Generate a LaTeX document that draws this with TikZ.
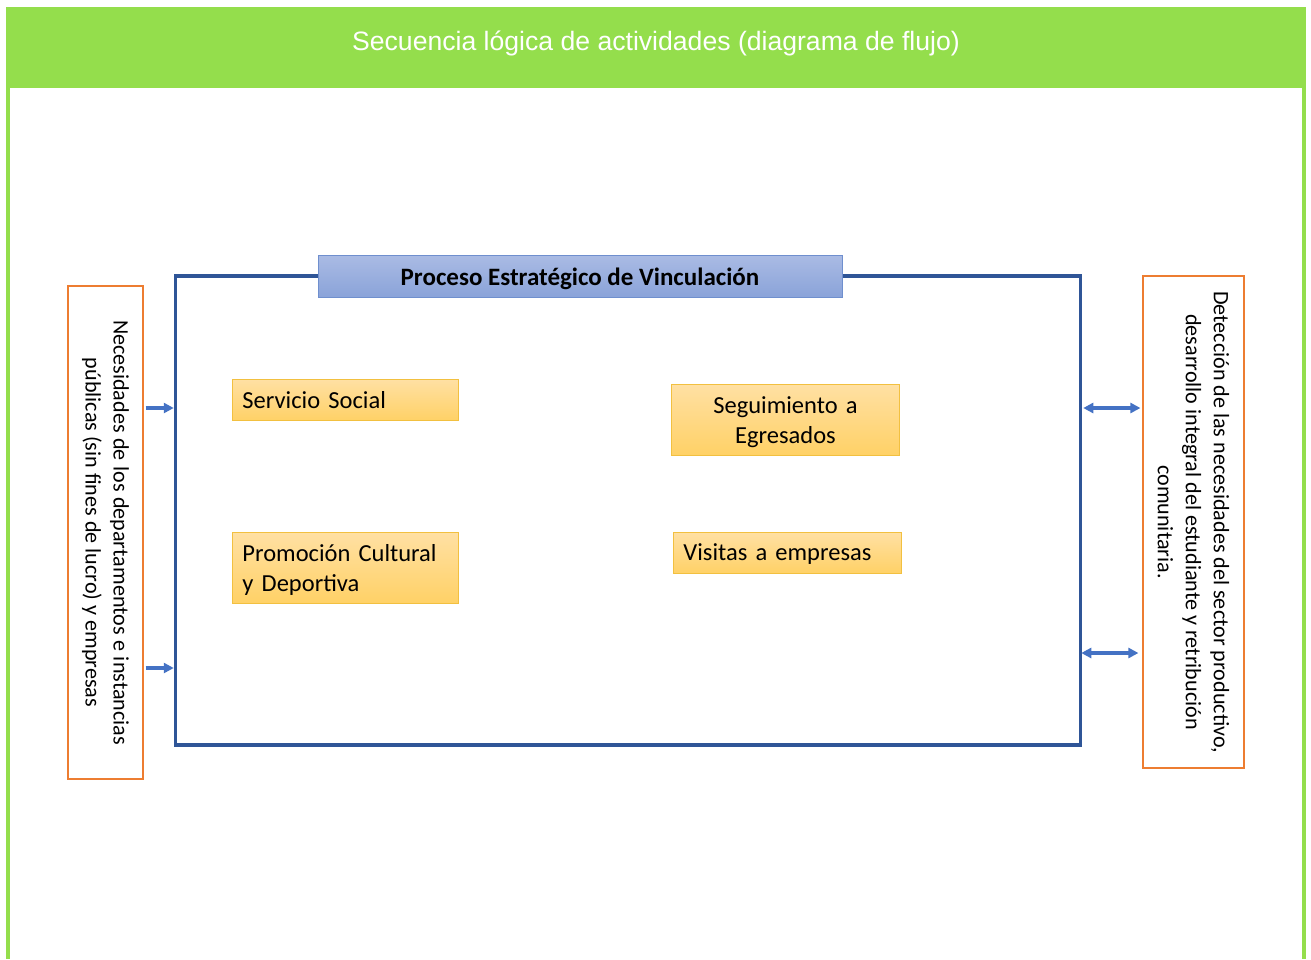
\documentclass[tikz,border=0pt]{standalone}
\usepackage{fontspec}
\setmainfont{Carlito}
\newfontfamily\titlefont{Liberation Sans}
\usetikzlibrary{arrows.meta,calc}
\definecolor{hdrgreen}{HTML}{94DE4C}
\definecolor{frameblue}{HTML}{2F5597}
\definecolor{arrblue}{HTML}{4472C4}
\definecolor{ttop}{HTML}{AABBE4}
\definecolor{tbot}{HTML}{8AA3D9}
\definecolor{tborder}{HTML}{6F8FCE}
\definecolor{atop}{HTML}{FFE0A3}
\definecolor{abot}{HTML}{FFD166}
\definecolor{aborder}{HTML}{F2C040}
\definecolor{sideorange}{HTML}{ED7D31}
\begin{document}
\begin{tikzpicture}[x=1pt,y=-1pt,
  actbox/.style={draw=aborder, line width=0.9pt, top color=atop, bottom color=abot,
    anchor=north west, inner xsep=10pt, inner ysep=0pt, align=left,
    font=\fontsize{24.5}{30}\selectfont},
  sidebox/.style={draw=sideorange, line width=1.2pt, fill=white, rotate=-90,
    inner sep=0pt, align=center, font=\fontsize{22.1}{28}\selectfont},
  arr/.style={draw=arrblue, line width=3.2pt, -{Triangle[length=10pt,width=10pt]}},
  darr/.style={draw=arrblue, line width=3.2pt, {Triangle[length=10pt,width=10pt]}-{Triangle[length=10pt,width=10pt]}}
]
\useasboundingbox (0,0) rectangle (1311,959);
\fill[white] (0,0) rectangle (1311,959);
% green frame
\fill[hdrgreen] (6,88) rectangle (10,959);
\fill[hdrgreen] (1302,88) rectangle (1306,959);
\node[fill=hdrgreen, anchor=north west, minimum width=1300, minimum height=81, inner sep=0pt] (header) at (6,7) {};
\node[text=white, font=\titlefont\fontsize{26.6}{32}\selectfont, inner sep=0pt] (title) at (656,43) {Secuencia lógica de actividades (diagrama de flujo)};
% main frame
\node[draw=frameblue, line width=3.5pt, minimum width=905, minimum height=469, inner sep=0pt] (frame) at (628,510.5) {};
\node[draw=tborder, line width=0.9pt, top color=ttop, bottom color=tbot, minimum width=524, minimum height=42,
  inner sep=0pt, text height=23pt, text depth=5pt, font=\bfseries\fontsize{25}{30}\selectfont] (proc) at (580,276) {Proceso Estratégico de Vinculación};
% activity boxes
\node[actbox, minimum height=41, text width=206] (ss) at (232,379) {Servicio Social};
\node[actbox, minimum height=71, text width=208, align=center, text height=39pt, text depth=21pt] (seg) at (671,384) {\begin{tabular}{@{}c@{}}Seguimiento a\\Egresados\end{tabular}};
\node[actbox, minimum height=71, text width=206, text height=39pt, text depth=21pt] (prom) at (232,532) {\begin{tabular}{@{}l@{}}Promoción Cultural\\y Deportiva\end{tabular}};
\node[actbox, minimum height=41, text width=208, text height=21pt, text depth=5pt] (vis) at (673,532) {Visitas a empresas};
% side boxes
\node[sidebox, minimum width=493, minimum height=75] (left) at (105.5,532.5)
  {\makebox[425pt][s]{Necesidades de los departamentos e instancias}\\públicas (sin fines de lucro) y empresas};
\node[sidebox, minimum width=492, minimum height=101] (right) at (1193.5,522)
  {Detección de las necesidades del sector productivo,\\desarrollo integral del estudiante y retribución\\comunitaria.};
% connectors
\coordinate (ya) at (0,408);
\coordinate (yb) at (0,668);
\coordinate (yc) at (0,408);
\coordinate (yd) at (0,653);
\draw[arr, shorten <=2pt] (left.north |- ya) -- (frame.west |- ya);
\draw[arr, shorten <=2pt] (left.north |- yb) -- (frame.west |- yb);
\draw[darr, shorten <=1pt, shorten >=2pt] (frame.east |- yc) -- (right.south |- yc);
\draw[darr, shorten <=-1pt, shorten >=4pt] (frame.east |- yd) -- (right.south |- yd);
\end{tikzpicture}
\end{document}
